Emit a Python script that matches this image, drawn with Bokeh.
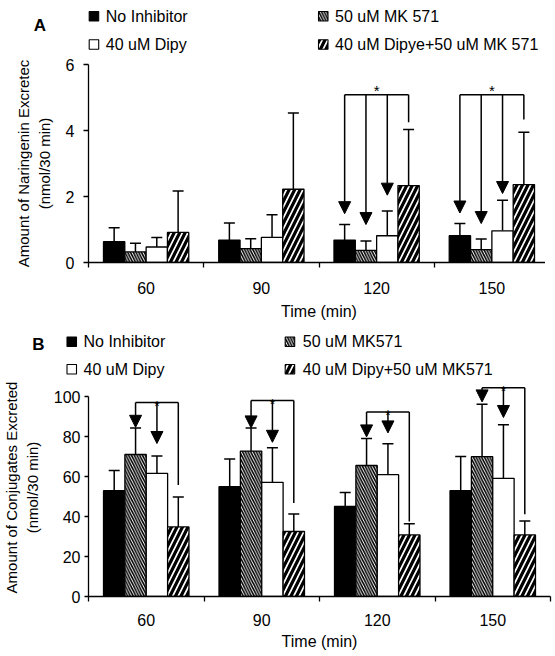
from bokeh.plotting import figure
from bokeh.layouts import column, row
from bokeh.models import (ColumnDataSource, Range1d, FixedTicker, Whisker, TeeHead,
                          Arrow, NormalHead)
from bokeh.core.properties import value
from bokeh.embed import file_html
from bokeh.resources import INLINE

# ---------------- data ----------------
times = ["60", "90", "120", "150"]
x_title = "Time (min)"

# Panel A: naringenin excreted (nmol/30 min)
a_labels = ["No Inhibitor", "50 uM MK 571", "40 uM Dipy", "40 uM Dipye+50 uM MK 571"]
a_no_inhib = [0.63, 0.68, 0.68, 0.81]
a_no_inhib_err = [1.05, 1.20, 1.15, 1.18]
a_mk = [0.32, 0.42, 0.37, 0.39]
a_mk_err = [0.58, 0.72, 0.65, 0.71]
a_dipy = [0.47, 0.76, 0.81, 0.96]
a_dipy_err = [0.76, 1.45, 1.56, 1.89]
a_both = [0.91, 2.22, 2.33, 2.36]
a_both_err = [2.17, 4.53, 4.03, 3.95]
a_title = "Amount of Naringenin Excretec\n(nmol/30 min)"
a_ticks = [0, 2, 4, 6]
a_sig_groups = [2, 3]
a_sig_level = [5.08, 5.08]
a_arrow_bars = [[0, 1, 2], [0, 1, 2]]
a_arrow_tips = [[1.48, 1.15, 2.04], [1.50, 1.18, 2.09]]
a_end_bar = [3, 3]
a_end_level = [4.25, 4.33]

# Panel B: conjugates excreted (nmol/30 min)
b_labels = ["No Inhibitor", "50 uM MK571", "40 uM Dipy", "40 uM Dipy+50 uM MK571"]
b_no_inhib = [52.9, 54.9, 45.1, 52.9]
b_no_inhib_err = [63.0, 68.7, 52.0, 70.0]
b_mk = [71.0, 72.7, 65.5, 69.9]
b_mk_err = [84.3, 84.3, 79.0, 96.1]
b_dipy = [61.6, 57.1, 60.9, 59.1]
b_dipy_err = [70.2, 74.4, 76.4, 85.9]
b_both = [34.8, 32.5, 30.8, 30.8]
b_both_err = [49.8, 41.2, 36.4, 37.7]
b_title = "Amount of Conjugates Excreted\n(nmol/30 min)"
b_ticks = [0, 20, 40, 60, 80, 100]
b_sig_groups = [0, 1, 2, 3]
b_sig_level = [97.0, 98.0, 92.3, 104.4]
b_arrow_bars = [[1, 2], [1, 2], [1, 2], [1, 2]]
b_arrow_tips = [[84.6, 76.5], [84.3, 77.1], [79.8, 81.8], [97.3, 89.5]]
b_end_bar = [3, 3, 3, 3]
b_end_level = [55.7, 46.8, 37.5, 41.1]

# ---------------- styling ----------------
FONT = "Liberation Sans"
BAR_W = 0.185
fills = ["black", "white", "white", "white"]
hatches = [" ", "\\", " ", "/"]
hatch_scales = [12, 5.5, 12, 11]
hatch_weights = [1, 1.6, 1, 3.2]
FIG_W = 545
SQ = 9.5                     # legend swatch size (px)
LEGEND_GRID = [[0, 2], [1, 3]]  # legend column -> series shown in row 1, row 2


def bar_style(k, lw=1.3):
    return dict(fill_color=fills[k], line_color="black", line_width=lw,
                hatch_pattern=hatches[k], hatch_scale=hatch_scales[k],
                hatch_weight=hatch_weights[k], hatch_color="black")


def bar_x(g, k):
    return g + 0.5 + (k - 1.5) * BAR_W


def make_header(letter, labels, h, sq_left, text_left, row_y, letter_xy):
    """Legend strip: pixel-unit ranges, x from the figure's left edge, y from its top."""
    p = figure(width=FIG_W, height=h, min_border=0,
               x_range=Range1d(0, FIG_W), y_range=Range1d(h, 0),
               x_axis_type=None, y_axis_type=None,
               output_backend="svg", toolbar_location=None)
    p.outline_line_color = None
    p.grid.visible = False
    for c in range(2):
        for r in range(2):
            k = LEGEND_GRID[c][r]
            p.rect(x=[sq_left[c] + SQ / 2], y=[row_y[r]], width=SQ, height=SQ,
                   **bar_style(k, lw=1.1))
            p.text(x=[text_left[c]], y=[row_y[r]], text=[labels[k]],
                   text_font=value(FONT), text_font_size="16px", text_align="left",
                   text_baseline="middle", text_color="black")
    p.text(x=[letter_xy[0]], y=[letter_xy[1]], text=[letter], text_font=value(FONT),
           text_font_size="17px", text_font_style="bold", text_align="center",
           text_baseline="middle", text_color="black")
    return p


def make_panel(vals, errs, ticks, ymax_axis, ymax, ytitle,
               sig_groups, sig_level, arrow_bars, arrow_tips, end_bar, end_level,
               fw, fh, bl, bt, bb, tick_standoff, tick_out, x_standoff, x_title_standoff,
               star_off, star_size):
    p = figure(frame_width=fw, frame_height=fh,
               x_range=Range1d(0, 4), y_range=Range1d(0, ymax),
               output_backend="svg", toolbar_location=None,
               min_border_left=bl, min_border_right=FIG_W - bl - fw, min_border_top=bt,
               min_border_bottom=bb)
    p.outline_line_color = None
    p.grid.visible = False
    p.background_fill_color = "white"

    for k in range(4):
        src = ColumnDataSource(dict(
            x=[bar_x(g, k) for g in range(4)], top=vals[k], err=errs[k]))
        p.vbar(x="x", top="top", width=BAR_W, source=src, **bar_style(k))
        p.add_layout(Whisker(source=src, base="x", lower="top", upper="err",
                             dimension="height", line_color="black", line_width=1.5,
                             upper_head=TeeHead(size=11, line_width=1.5, line_color="black"),
                             lower_head=None))

    # significance brackets and arrows
    xs, ys, xe, ye = [], [], [], []
    hx0, hy0, hx1, hy1 = [], [], [], []
    vx0, vy0, vx1, vy1 = [], [], [], []
    sx, sy = [], []
    for i, g in enumerate(sig_groups):
        lvl = sig_level[i]
        for b, tip in zip(arrow_bars[i], arrow_tips[i]):
            xs.append(bar_x(g, b)); ys.append(lvl)
            xe.append(bar_x(g, b)); ye.append(tip)
        x_left = bar_x(g, arrow_bars[i][0])
        x_right = bar_x(g, end_bar[i])
        hx0.append(x_left); hy0.append(lvl); hx1.append(x_right); hy1.append(lvl)
        vx0.append(x_right); vy0.append(lvl); vx1.append(x_right); vy1.append(end_level[i])
        sx.append((x_left + x_right) / 2); sy.append(lvl)
    p.segment(x0=hx0, y0=hy0, x1=hx1, y1=hy1, line_color="black", line_width=1.5)
    p.segment(x0=vx0, y0=vy0, x1=vx1, y1=vy1, line_color="black", line_width=1.5)
    asrc = ColumnDataSource(dict(xs=xs, ys=ys, xe=xe, ye=ye))
    p.add_layout(Arrow(source=asrc, x_start="xs", y_start="ys", x_end="xe", y_end="ye",
                       line_color="black", line_width=1.5, start=None,
                       end=NormalHead(size=12, fill_color="black", line_color="black",
                                      line_width=1)))
    p.text(x=sx, y=sy, text=["*"] * len(sx), text_font=value(FONT),
           text_font_size=star_size, text_align="center", text_baseline="alphabetic",
           y_offset=star_off, text_color="black")

    # axes
    xa = p.xaxis[0]
    xa.ticker = FixedTicker(ticks=[g + 0.5 for g in range(4)],
                            minor_ticks=[0, 1, 2, 3, 4])
    xa.major_label_overrides = {g + 0.5: t for g, t in enumerate(times)}
    xa.major_tick_out = 0
    xa.major_tick_in = 0
    xa.minor_tick_out = 5
    xa.minor_tick_in = 0
    xa.minor_tick_line_color = "black"
    xa.minor_tick_line_width = 1.3
    xa.axis_line_color = "black"
    xa.axis_line_width = 1.3
    xa.major_label_standoff = x_standoff
    xa.major_label_text_font = FONT
    xa.major_label_text_font_size = "16px"
    xa.major_label_text_color = "black"
    xa.axis_label = x_title
    xa.axis_label_text_font = FONT
    xa.axis_label_text_font_size = "16px"
    xa.axis_label_text_font_style = "normal"
    xa.axis_label_text_color = "black"
    xa.axis_label_standoff = x_title_standoff

    ya = p.yaxis[0]
    ya.bounds = (0, ymax_axis)
    ya.ticker = FixedTicker(ticks=ticks, minor_ticks=[])
    ya.major_tick_out = tick_out
    ya.major_tick_in = 0
    ya.major_tick_line_color = "black"
    ya.major_tick_line_width = 1.3
    ya.axis_line_color = "black"
    ya.axis_line_width = 1.3
    ya.major_label_standoff = tick_standoff
    ya.major_label_text_font = FONT
    ya.major_label_text_font_size = "16px"
    ya.major_label_text_color = "black"
    ya.axis_label = ytitle
    ya.axis_label_text_font = FONT
    ya.axis_label_text_font_size = "15px"
    ya.axis_label_text_font_style = "normal"
    ya.axis_label_text_color = "black"
    ya.axis_label_standoff = 10
    return p


# header A: 56 px tall
ha = make_header("A", a_labels, 56, sq_left=[88.7, 318], text_left=[105.3, 334.6],
                 row_y=[15.8, 44], letter_xy=[39.5, 25.3])
pa = make_panel([a_no_inhib, a_mk, a_dipy, a_both],
                [a_no_inhib_err, a_mk_err, a_dipy_err, a_both_err],
                a_ticks, 6, 6, a_title,
                a_sig_groups, a_sig_level, a_arrow_bars, a_arrow_tips, a_end_bar, a_end_level,
                fw=461, fh=198, bl=81, bt=8, bb=60,
                tick_standoff=9, tick_out=5, x_standoff=14, x_title_standoff=6,
                star_off=-4, star_size="15px")

# header B: 56 px tall
hb = make_header("B", b_labels, 56, sq_left=[66.5, 284.7], text_left=[83, 302.3],
                 row_y=[19.3, 46.7], letter_xy=[38, 22])
pb = make_panel([b_no_inhib, b_mk, b_dipy, b_both],
                [b_no_inhib_err, b_mk_err, b_dipy_err, b_both_err],
                b_ticks, 100, 109, b_title,
                b_sig_groups, b_sig_level, b_arrow_bars, b_arrow_tips, b_end_bar, b_end_level,
                fw=462, fh=218, bl=80, bt=0, bb=52,
                tick_standoff=4, tick_out=4, x_standoff=12, x_title_standoff=4,
                star_off=3, star_size="14px")

layout = column(row(ha), pa, row(hb), pb, spacing=0)
open("out.html", "w").write(file_html(layout, INLINE))
